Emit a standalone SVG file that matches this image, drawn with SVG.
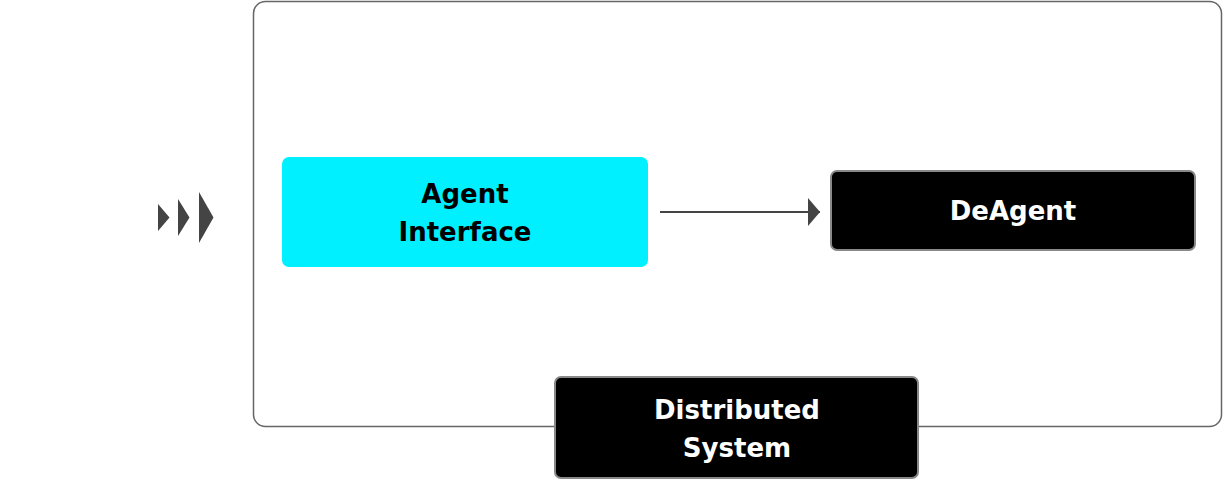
<svg xmlns="http://www.w3.org/2000/svg" width="1224" height="480" viewBox="0 0 1224 480">
<defs>
<style>
.lbl{font-family:"DejaVu Sans",Inter,sans-serif;font-weight:700;font-size:26px;text-anchor:middle}
.dark{fill:#000;stroke:#888;stroke-width:2}
.wt{fill:#fff}
.bk{fill:#000}
</style>
<marker id="ah" markerWidth="12" markerHeight="28" refX="12" refY="14" orient="auto" markerUnits="userSpaceOnUse">
<path d="M0,0 L12,14 L0,28 Z" fill="#444"/>
</marker>
</defs>
<rect width="1224" height="480" fill="#fff"/>
<g id="container">
<rect x="253.5" y="1.5" width="968" height="425" rx="12" fill="none" stroke="#666" stroke-width="1.5"/>
</g>
<g id="chevrons" fill="#444">
<path d="M158,204 L169.5,217.5 L158,231 Z"/>
<path d="M178,199 L189.5,217.5 L178,236 Z"/>
<path d="M199,192 L213.5,217.5 L199,243 Z"/>
</g>
<g id="connectors">
<line x1="660" y1="212" x2="820" y2="212" stroke="#444" stroke-width="2" marker-end="url(#ah)"/>
</g>
<g id="agent-interface">
<rect x="282" y="157" width="366" height="110" rx="7" fill="#00F0FF"/>
<text class="lbl bk" x="465" y="203">Agent</text>
<text class="lbl bk" x="465" y="241">Interface</text>
</g>
<g id="deagent">
<rect class="dark" x="831" y="171" width="364" height="79" rx="6"/>
<text class="lbl wt" x="1013" y="220">DeAgent</text>
</g>
<g id="distributed-system">
<rect class="dark" x="555" y="377" width="363" height="101" rx="6"/>
<text class="lbl wt" x="737" y="419">Distributed</text>
<text class="lbl wt" x="737" y="457">System</text>
</g>
</svg>
